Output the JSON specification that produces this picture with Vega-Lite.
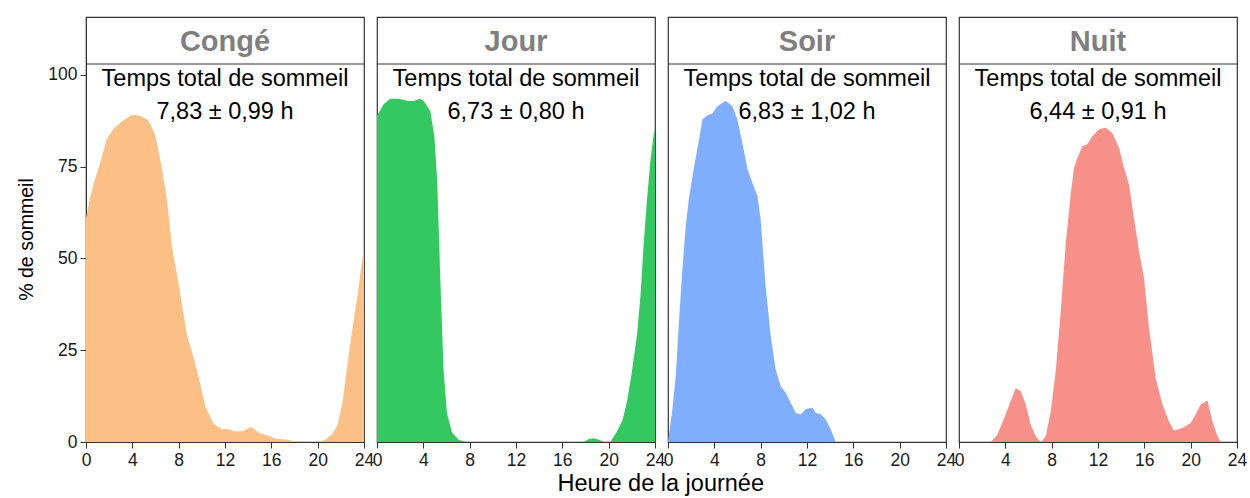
{
  "$schema": "https://vega.github.io/schema/vega-lite/v6.json",
  "padding": {"left": 16, "top": 16, "right": 0, "bottom": 0},
  "background": "white",
  "config": {
    "font": "Liberation Sans",
    "view": {"stroke": "#333333", "strokeWidth": 1.2},
    "axis": {
      "grid": false,
      "domainColor": "#333333",
      "tickColor": "#333333",
      "tickSize": 6,
      "labelFont": "Liberation Sans",
      "labelFontSize": 17.5,
      "labelColor": "#1a1a1a",
      "labelPadding": 3,
      "titleFont": "Liberation Sans",
      "titleFontSize": 19.5,
      "titleFontWeight": "normal",
      "titleColor": "#000000"
    }
  },
  "datasets": {
    "panels": [
      {"poste": "Congé", "note": "Temps total de sommeil\n7,83 ± 0,99 h"},
      {"poste": "Jour", "note": "Temps total de sommeil\n6,73 ± 0,80 h"},
      {"poste": "Soir", "note": "Temps total de sommeil\n6,83 ± 1,02 h"},
      {"poste": "Nuit", "note": "Temps total de sommeil\n6,44 ± 0,91 h"}
    ],
    "sleep": [
      {"poste": "Congé", "heure": 0, "pct": 61},
      {"poste": "Congé", "heure": 0.35, "pct": 66.5},
      {"poste": "Congé", "heure": 0.63, "pct": 70},
      {"poste": "Congé", "heure": 1.2, "pct": 75.8},
      {"poste": "Congé", "heure": 1.8, "pct": 82.6},
      {"poste": "Congé", "heure": 2.4, "pct": 85.4},
      {"poste": "Congé", "heure": 3.2, "pct": 87.6},
      {"poste": "Congé", "heure": 3.96, "pct": 89.2},
      {"poste": "Congé", "heure": 4.68, "pct": 88.8},
      {"poste": "Congé", "heure": 5.4, "pct": 87.6},
      {"poste": "Congé", "heure": 5.98, "pct": 83.6},
      {"poste": "Congé", "heure": 6.56, "pct": 74.5},
      {"poste": "Congé", "heure": 7.0, "pct": 65.6},
      {"poste": "Congé", "heure": 7.43, "pct": 52.9},
      {"poste": "Congé", "heure": 7.86, "pct": 45.6},
      {"poste": "Congé", "heure": 8.72, "pct": 29},
      {"poste": "Congé", "heure": 9.3, "pct": 22.9},
      {"poste": "Congé", "heure": 9.88, "pct": 15.5},
      {"poste": "Congé", "heure": 10.3, "pct": 9.7},
      {"poste": "Congé", "heure": 11.0, "pct": 5},
      {"poste": "Congé", "heure": 11.76, "pct": 3.4},
      {"poste": "Congé", "heure": 12.19, "pct": 3.6},
      {"poste": "Congé", "heure": 12.76, "pct": 2.9},
      {"poste": "Congé", "heure": 13.48, "pct": 2.9},
      {"poste": "Congé", "heure": 14.27, "pct": 4.1},
      {"poste": "Congé", "heure": 14.93, "pct": 2.5},
      {"poste": "Congé", "heure": 15.65, "pct": 1.8},
      {"poste": "Congé", "heure": 16.4, "pct": 0.9},
      {"poste": "Congé", "heure": 17.4, "pct": 0.6},
      {"poste": "Congé", "heure": 17.97, "pct": 0.2},
      {"poste": "Congé", "heure": 18.5, "pct": 0},
      {"poste": "Congé", "heure": 20.0, "pct": 0},
      {"poste": "Congé", "heure": 20.7, "pct": 0.7},
      {"poste": "Congé", "heure": 21.3, "pct": 2.3},
      {"poste": "Congé", "heure": 21.7, "pct": 4.5},
      {"poste": "Congé", "heure": 22.15, "pct": 10.9},
      {"poste": "Congé", "heure": 22.6, "pct": 21.8},
      {"poste": "Congé", "heure": 23.0, "pct": 30.9},
      {"poste": "Congé", "heure": 23.45, "pct": 40},
      {"poste": "Congé", "heure": 23.74, "pct": 47.2},
      {"poste": "Congé", "heure": 24, "pct": 53},

      {"poste": "Jour", "heure": 0, "pct": 88.8},
      {"poste": "Jour", "heure": 0.57, "pct": 92},
      {"poste": "Jour", "heure": 1.15, "pct": 93.5},
      {"poste": "Jour", "heure": 1.87, "pct": 93.5},
      {"poste": "Jour", "heure": 2.73, "pct": 92.9},
      {"poste": "Jour", "heure": 3.16, "pct": 92.9},
      {"poste": "Jour", "heure": 3.74, "pct": 93.5},
      {"poste": "Jour", "heure": 4.03, "pct": 92.9},
      {"poste": "Jour", "heure": 4.6, "pct": 90.2},
      {"poste": "Jour", "heure": 4.95, "pct": 83.3},
      {"poste": "Jour", "heure": 5.2, "pct": 71},
      {"poste": "Jour", "heure": 5.47, "pct": 44},
      {"poste": "Jour", "heure": 5.75, "pct": 19.5},
      {"poste": "Jour", "heure": 6.04, "pct": 7.9},
      {"poste": "Jour", "heure": 6.48, "pct": 2.5},
      {"poste": "Jour", "heure": 7.05, "pct": 0.6},
      {"poste": "Jour", "heure": 7.7, "pct": 0},
      {"poste": "Jour", "heure": 17.8, "pct": 0},
      {"poste": "Jour", "heure": 18.3, "pct": 0.8},
      {"poste": "Jour", "heure": 18.7, "pct": 1.0},
      {"poste": "Jour", "heure": 19.2, "pct": 0.6},
      {"poste": "Jour", "heure": 19.6, "pct": 0},
      {"poste": "Jour", "heure": 20.15, "pct": 0},
      {"poste": "Jour", "heure": 20.72, "pct": 2.9},
      {"poste": "Jour", "heure": 21.2, "pct": 6},
      {"poste": "Jour", "heure": 21.59, "pct": 11.1},
      {"poste": "Jour", "heure": 22.0, "pct": 19},
      {"poste": "Jour", "heure": 22.45, "pct": 29.3},
      {"poste": "Jour", "heure": 22.75, "pct": 40},
      {"poste": "Jour", "heure": 23.02, "pct": 54},
      {"poste": "Jour", "heure": 23.3, "pct": 65.6},
      {"poste": "Jour", "heure": 23.6, "pct": 76.5},
      {"poste": "Jour", "heure": 23.89, "pct": 84},
      {"poste": "Jour", "heure": 24, "pct": 85},

      {"poste": "Soir", "heure": 0, "pct": 0},
      {"poste": "Soir", "heure": 0.38, "pct": 9},
      {"poste": "Soir", "heure": 0.67, "pct": 18},
      {"poste": "Soir", "heure": 0.95, "pct": 33},
      {"poste": "Soir", "heure": 1.24, "pct": 47},
      {"poste": "Soir", "heure": 1.53, "pct": 58.8},
      {"poste": "Soir", "heure": 1.81, "pct": 66.5},
      {"poste": "Soir", "heure": 2.25, "pct": 75},
      {"poste": "Soir", "heure": 2.68, "pct": 82.4},
      {"poste": "Soir", "heure": 2.97, "pct": 87.9},
      {"poste": "Soir", "heure": 3.4, "pct": 89},
      {"poste": "Soir", "heure": 3.83, "pct": 89.5},
      {"poste": "Soir", "heure": 4.26, "pct": 91.5},
      {"poste": "Soir", "heure": 4.98, "pct": 93},
      {"poste": "Soir", "heure": 5.56, "pct": 91.5},
      {"poste": "Soir", "heure": 5.99, "pct": 87.9},
      {"poste": "Soir", "heure": 6.42, "pct": 81.5},
      {"poste": "Soir", "heure": 6.86, "pct": 74.3},
      {"poste": "Soir", "heure": 7.29, "pct": 70.6},
      {"poste": "Soir", "heure": 7.72, "pct": 67},
      {"poste": "Soir", "heure": 8.0, "pct": 60.6},
      {"poste": "Soir", "heure": 8.43, "pct": 42.4},
      {"poste": "Soir", "heure": 8.87, "pct": 28.8},
      {"poste": "Soir", "heure": 9.3, "pct": 19.7},
      {"poste": "Soir", "heure": 9.73, "pct": 15.2},
      {"poste": "Soir", "heure": 10.16, "pct": 13.4},
      {"poste": "Soir", "heure": 10.6, "pct": 10.6},
      {"poste": "Soir", "heure": 11.03, "pct": 7.9},
      {"poste": "Soir", "heure": 11.46, "pct": 7.5},
      {"poste": "Soir", "heure": 11.89, "pct": 9},
      {"poste": "Soir", "heure": 12.47, "pct": 9.3},
      {"poste": "Soir", "heure": 12.76, "pct": 7.9},
      {"poste": "Soir", "heure": 13.19, "pct": 7.6},
      {"poste": "Soir", "heure": 13.62, "pct": 6.1},
      {"poste": "Soir", "heure": 14.05, "pct": 3.4},
      {"poste": "Soir", "heure": 14.48, "pct": 0},
      {"poste": "Soir", "heure": 24, "pct": 0},

      {"poste": "Nuit", "heure": 0, "pct": 0},
      {"poste": "Nuit", "heure": 2.74, "pct": 0},
      {"poste": "Nuit", "heure": 3.32, "pct": 2},
      {"poste": "Nuit", "heure": 3.89, "pct": 6.5},
      {"poste": "Nuit", "heure": 4.46, "pct": 11.1},
      {"poste": "Nuit", "heure": 4.9, "pct": 14.7},
      {"poste": "Nuit", "heure": 5.33, "pct": 13.8},
      {"poste": "Nuit", "heure": 5.76, "pct": 10.2},
      {"poste": "Nuit", "heure": 6.19, "pct": 4.7},
      {"poste": "Nuit", "heure": 6.62, "pct": 1.6},
      {"poste": "Nuit", "heure": 7.06, "pct": 0},
      {"poste": "Nuit", "heure": 7.49, "pct": 1.6},
      {"poste": "Nuit", "heure": 7.92, "pct": 8.4},
      {"poste": "Nuit", "heure": 8.35, "pct": 19.3},
      {"poste": "Nuit", "heure": 8.78, "pct": 35.6},
      {"poste": "Nuit", "heure": 9.21, "pct": 53.8},
      {"poste": "Nuit", "heure": 9.64, "pct": 67.5},
      {"poste": "Nuit", "heure": 9.93, "pct": 74.7},
      {"poste": "Nuit", "heure": 10.22, "pct": 77.4},
      {"poste": "Nuit", "heure": 10.65, "pct": 80.6},
      {"poste": "Nuit", "heure": 11.08, "pct": 81.1},
      {"poste": "Nuit", "heure": 11.51, "pct": 83.3},
      {"poste": "Nuit", "heure": 12.08, "pct": 85.2},
      {"poste": "Nuit", "heure": 12.66, "pct": 85.6},
      {"poste": "Nuit", "heure": 13.23, "pct": 84.2},
      {"poste": "Nuit", "heure": 13.81, "pct": 80.2},
      {"poste": "Nuit", "heure": 14.24, "pct": 74.7},
      {"poste": "Nuit", "heure": 14.67, "pct": 70.2},
      {"poste": "Nuit", "heure": 15.1, "pct": 61.1},
      {"poste": "Nuit", "heure": 15.54, "pct": 52},
      {"poste": "Nuit", "heure": 15.97, "pct": 44.7},
      {"poste": "Nuit", "heure": 16.4, "pct": 31.1},
      {"poste": "Nuit", "heure": 16.98, "pct": 17.4},
      {"poste": "Nuit", "heure": 17.56, "pct": 10.2},
      {"poste": "Nuit", "heure": 18.13, "pct": 5.6},
      {"poste": "Nuit", "heure": 18.56, "pct": 3.1},
      {"poste": "Nuit", "heure": 19.29, "pct": 3.8},
      {"poste": "Nuit", "heure": 20.0, "pct": 5.2},
      {"poste": "Nuit", "heure": 20.43, "pct": 7.5},
      {"poste": "Nuit", "heure": 20.87, "pct": 10.2},
      {"poste": "Nuit", "heure": 21.45, "pct": 11.3},
      {"poste": "Nuit", "heure": 21.88, "pct": 5.6},
      {"poste": "Nuit", "heure": 22.31, "pct": 1.6},
      {"poste": "Nuit", "heure": 22.6, "pct": 0},
      {"poste": "Nuit", "heure": 24, "pct": 0}
    ]
  },
  "title": {
    "text": "Heure de la journée",
    "orient": "bottom",
    "anchor": "middle",
    "font": "Liberation Sans",
    "fontSize": 23.5,
    "fontWeight": "normal",
    "color": "#000000",
    "offset": 3,
    "dx": 29
  },
  "bounds": "flush",
  "spacing": 13,
  "hconcat": [
    {
      "width": 278, "height": 425,
      "layer": [
        {
          "data": {"name": "sleep"},
          "transform": [{"filter": "datum.poste === 'Congé'"}],
          "mark": {"type": "area", "opacity": 1, "interpolate": "linear"},
          "encoding": {
            "x": {"field": "heure", "type": "quantitative", "title": null, "scale": {"domain": [0, 24], "nice": false}, "axis": {"values": [0, 4, 8, 12, 16, 20, 24], "labelOverlap": false, "labelFlush": false}},
            "y": {"field": "pct", "type": "quantitative", "title": "% de sommeil", "scale": {"domain": [0, 115.8], "nice": false}, "axis": {"values": [0, 25, 50, 75, 100], "titlePadding": 11, "titleY": 222}},
            "color": {"field": "poste", "type": "nominal", "legend": null, "scale": {"domain": ["Congé", "Jour", "Soir", "Nuit"], "range": ["#fcbf85", "#34c860", "#80aeff", "#f8908a"]}}
          }
        },
        {
          "data": {"name": "panels"},
          "transform": [{"filter": "datum.poste === 'Congé'"}],
          "mark": {"type": "rule", "color": "#333333", "strokeWidth": 1.2},
          "encoding": {"y": {"datum": 103, "type": "quantitative"}}
        },
        {
          "data": {"name": "panels"},
          "transform": [{"filter": "datum.poste === 'Congé'"}],
          "mark": {"type": "text", "font": "Liberation Sans", "fontSize": 29, "fontWeight": "bold", "color": "#7f7f7f", "baseline": "middle", "dy": 1.5},
          "encoding": {
            "x": {"datum": 12, "type": "quantitative"},
            "y": {"datum": 109.4, "type": "quantitative"},
            "text": {"field": "poste", "type": "nominal"}
          }
        },
        {
          "data": {"name": "panels"},
          "transform": [{"filter": "datum.poste === 'Congé'"}],
          "mark": {"type": "text", "font": "Liberation Sans", "fontSize": 23.5, "color": "#000000", "baseline": "alphabetic", "lineBreak": "\n", "lineHeight": 33},
          "encoding": {
            "x": {"datum": 12, "type": "quantitative"},
            "y": {"datum": 97, "type": "quantitative"},
            "text": {"field": "note", "type": "nominal"}
          }
        }
      ]
    },
    {
      "width": 278, "height": 425,
      "layer": [
        {
          "data": {"name": "sleep"},
          "transform": [{"filter": "datum.poste === 'Jour'"}],
          "mark": {"type": "area", "opacity": 1, "interpolate": "linear"},
          "encoding": {
            "x": {"field": "heure", "type": "quantitative", "title": null, "scale": {"domain": [0, 24], "nice": false}, "axis": {"values": [0, 4, 8, 12, 16, 20, 24], "labelOverlap": false, "labelFlush": false}},
            "y": {"field": "pct", "type": "quantitative", "scale": {"domain": [0, 115.8], "nice": false}, "axis": null},
            "color": {"field": "poste", "type": "nominal", "legend": null, "scale": {"domain": ["Congé", "Jour", "Soir", "Nuit"], "range": ["#fcbf85", "#34c860", "#80aeff", "#f8908a"]}}
          }
        },
        {
          "data": {"name": "panels"},
          "transform": [{"filter": "datum.poste === 'Jour'"}],
          "mark": {"type": "rule", "color": "#333333", "strokeWidth": 1.2},
          "encoding": {"y": {"datum": 103, "type": "quantitative"}}
        },
        {
          "data": {"name": "panels"},
          "transform": [{"filter": "datum.poste === 'Jour'"}],
          "mark": {"type": "text", "font": "Liberation Sans", "fontSize": 29, "fontWeight": "bold", "color": "#7f7f7f", "baseline": "middle", "dy": 1.5},
          "encoding": {
            "x": {"datum": 12, "type": "quantitative"},
            "y": {"datum": 109.4, "type": "quantitative"},
            "text": {"field": "poste", "type": "nominal"}
          }
        },
        {
          "data": {"name": "panels"},
          "transform": [{"filter": "datum.poste === 'Jour'"}],
          "mark": {"type": "text", "font": "Liberation Sans", "fontSize": 23.5, "color": "#000000", "baseline": "alphabetic", "lineBreak": "\n", "lineHeight": 33},
          "encoding": {
            "x": {"datum": 12, "type": "quantitative"},
            "y": {"datum": 97, "type": "quantitative"},
            "text": {"field": "note", "type": "nominal"}
          }
        }
      ]
    },
    {
      "width": 278, "height": 425,
      "layer": [
        {
          "data": {"name": "sleep"},
          "transform": [{"filter": "datum.poste === 'Soir'"}],
          "mark": {"type": "area", "opacity": 1, "interpolate": "linear"},
          "encoding": {
            "x": {"field": "heure", "type": "quantitative", "title": null, "scale": {"domain": [0, 24], "nice": false}, "axis": {"values": [0, 4, 8, 12, 16, 20, 24], "labelOverlap": false, "labelFlush": false}},
            "y": {"field": "pct", "type": "quantitative", "scale": {"domain": [0, 115.8], "nice": false}, "axis": null},
            "color": {"field": "poste", "type": "nominal", "legend": null, "scale": {"domain": ["Congé", "Jour", "Soir", "Nuit"], "range": ["#fcbf85", "#34c860", "#80aeff", "#f8908a"]}}
          }
        },
        {
          "data": {"name": "panels"},
          "transform": [{"filter": "datum.poste === 'Soir'"}],
          "mark": {"type": "rule", "color": "#333333", "strokeWidth": 1.2},
          "encoding": {"y": {"datum": 103, "type": "quantitative"}}
        },
        {
          "data": {"name": "panels"},
          "transform": [{"filter": "datum.poste === 'Soir'"}],
          "mark": {"type": "text", "font": "Liberation Sans", "fontSize": 29, "fontWeight": "bold", "color": "#7f7f7f", "baseline": "middle", "dy": 1.5},
          "encoding": {
            "x": {"datum": 12, "type": "quantitative"},
            "y": {"datum": 109.4, "type": "quantitative"},
            "text": {"field": "poste", "type": "nominal"}
          }
        },
        {
          "data": {"name": "panels"},
          "transform": [{"filter": "datum.poste === 'Soir'"}],
          "mark": {"type": "text", "font": "Liberation Sans", "fontSize": 23.5, "color": "#000000", "baseline": "alphabetic", "lineBreak": "\n", "lineHeight": 33},
          "encoding": {
            "x": {"datum": 12, "type": "quantitative"},
            "y": {"datum": 97, "type": "quantitative"},
            "text": {"field": "note", "type": "nominal"}
          }
        }
      ]
    },
    {
      "width": 278, "height": 425,
      "layer": [
        {
          "data": {"name": "sleep"},
          "transform": [{"filter": "datum.poste === 'Nuit'"}],
          "mark": {"type": "area", "opacity": 1, "interpolate": "linear"},
          "encoding": {
            "x": {"field": "heure", "type": "quantitative", "title": null, "scale": {"domain": [0, 24], "nice": false}, "axis": {"values": [0, 4, 8, 12, 16, 20, 24], "labelOverlap": false, "labelFlush": false}},
            "y": {"field": "pct", "type": "quantitative", "scale": {"domain": [0, 115.8], "nice": false}, "axis": null},
            "color": {"field": "poste", "type": "nominal", "legend": null, "scale": {"domain": ["Congé", "Jour", "Soir", "Nuit"], "range": ["#fcbf85", "#34c860", "#80aeff", "#f8908a"]}}
          }
        },
        {
          "data": {"name": "panels"},
          "transform": [{"filter": "datum.poste === 'Nuit'"}],
          "mark": {"type": "rule", "color": "#333333", "strokeWidth": 1.2},
          "encoding": {"y": {"datum": 103, "type": "quantitative"}}
        },
        {
          "data": {"name": "panels"},
          "transform": [{"filter": "datum.poste === 'Nuit'"}],
          "mark": {"type": "text", "font": "Liberation Sans", "fontSize": 29, "fontWeight": "bold", "color": "#7f7f7f", "baseline": "middle", "dy": 1.5},
          "encoding": {
            "x": {"datum": 12, "type": "quantitative"},
            "y": {"datum": 109.4, "type": "quantitative"},
            "text": {"field": "poste", "type": "nominal"}
          }
        },
        {
          "data": {"name": "panels"},
          "transform": [{"filter": "datum.poste === 'Nuit'"}],
          "mark": {"type": "text", "font": "Liberation Sans", "fontSize": 23.5, "color": "#000000", "baseline": "alphabetic", "lineBreak": "\n", "lineHeight": 33},
          "encoding": {
            "x": {"datum": 12, "type": "quantitative"},
            "y": {"datum": 97, "type": "quantitative"},
            "text": {"field": "note", "type": "nominal"}
          }
        }
      ]
    }
  ]
}
